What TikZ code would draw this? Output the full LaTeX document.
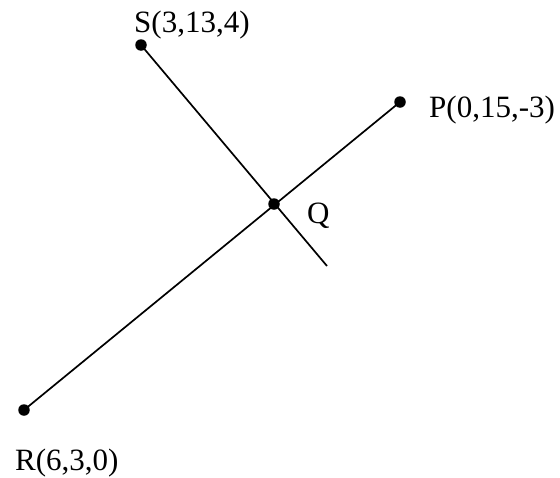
\documentclass[tikz,border=0pt]{standalone}
\usepackage{fontspec}
\setmainfont{Liberation Serif}
\begin{document}
\begin{tikzpicture}[x=1pt,y=-1pt,
  dot/.style={circle,fill=black,inner sep=0pt,minimum size=11.5pt},
  lbl/.style={inner sep=0pt,anchor=base west,font=\fontsize{31}{36}\selectfont},
  seg/.style={line width=1.7pt}]
\useasboundingbox (0,0) rectangle (560,477);
\node[dot] (S) at (141,45) {};
\node[dot] (P) at (400,102) {};
\node[dot] (Q) at (274,204) {};
\node[dot] (R) at (24,410) {};
\coordinate (E) at (327,266);
\draw[seg] (S.center) -- (E);
\draw[seg] (R.center) -- (P.center);
\node[lbl] (Sl) at (134,32) {S(3,13,4)};
\node[lbl] (Pl) at (429,117) {P(0,15,-3)};
\node[lbl] (Ql) at (307,223) {Q};
\node[lbl] (Rl) at (15,470) {R(6,3,0)};
\end{tikzpicture}
\end{document}
